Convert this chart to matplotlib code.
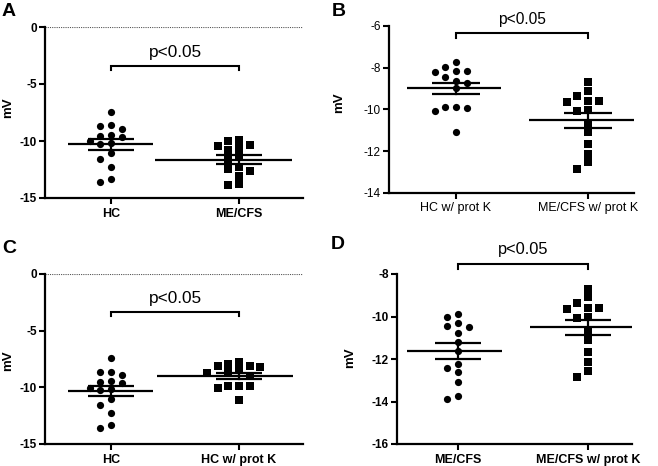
import matplotlib
matplotlib.use("Agg")
import matplotlib.pyplot as plt
import numpy as np

plt.rcParams['font.family'] = ['Liberation Sans', 'DejaVu Sans']

# ---- data (mV) ----
hc = [-7.44, -8.91, -8.68, -8.64, -9.56, -9.62, -9.44, -10.15, -10.03, -10.24,
      -11.05, -11.55, -12.25, -13.62, -13.3]
hc_protk = [-7.74, -8.15, -8.22, -8.16, -8.43, -7.95, -8.63, -8.72, -8.99,
            -9.87, -9.92, -10.06, -9.90, -11.1]
mecfs = [-9.88, -10.01, -10.43, -10.76, -10.51, -10.32, -11.21, -11.62,
         -12.63, -12.44, -12.25, -13.07, -13.9, -13.73]
mecfs_protk = [-8.71, -9.10, -9.38, -9.62, -9.62, -9.66, -10.09, -10.04,
               -10.68, -11.1, -11.65, -12.16, -12.55, -12.86]

W, H = 658, 466

def swarm(vals, thr):
    order = np.argsort(vals)[::-1]
    cols = {}
    off = np.zeros(len(vals))
    for i in order:
        v = vals[i]
        for c in [0, -1, 1, -2, 2, -3, 3, -4, 4]:
            if all(abs(v - u) >= thr for u in cols.get(c, [])):
                cols.setdefault(c, []).append(v)
                off[i] = c
                break
    return off

panels = [
    dict(letter='A', box=(45, 303, 27, 198), cats=(111, 239), ylim=(-15, 0),
         yticks=[0, -5, -10, -15], data=(hc, mecfs), labels=('HC', 'ME/CFS'),
         markers=('o', 's'), bold=True, zero=True, mean_ext=((-0.336, 0.33), (-0.656, 0.414)),
         br=(-3.42, -3.8), ptxt=-2.2, pfs=12.4, ylab_px=14, ylab_y=0.53, letter_xy=(2, 3)),
    dict(letter='B', box=(389, 634, 26, 192.7), cats=(456, 588), ylim=(-14, -6),
         yticks=[-6, -8, -10, -12, -14], data=(hc_protk, mecfs_protk),
         labels=('HC w/ prot K', 'ME/CFS w/ prot K'),
         markers=('o', 's'), bold=False, zero=False, mean_ext=((-0.37, 0.34), (-0.45, 0.35)),
         br=(-6.32, -6.56), ptxt=-5.7, pfs=11.2, ylab_px=345, ylab_y=0.54, letter_xy=(332, 3)),
    dict(letter='C', box=(45, 303, 274, 444), cats=(111, 239), ylim=(-15, 0),
         yticks=[0, -5, -10, -15], data=(hc, hc_protk), labels=('HC', 'HC w/ prot K'),
         markers=('o', 's'), bold=True, zero=True, mean_ext=((-0.336, 0.33), (-0.64, 0.42)),
         br=(-3.35, -3.74), ptxt=-2.12, pfs=12.4, ylab_px=14, ylab_y=0.49, letter_xy=(2, 240)),
    dict(letter='D', box=(397, 632, 274, 444), cats=(458, 588), ylim=(-16, -8),
         yticks=[-8, -10, -12, -14, -16], data=(mecfs, mecfs_protk),
         labels=('ME/CFS', 'ME/CFS w/ prot K'),
         markers=('o', 's'), bold=True, zero=False, mean_ext=((-0.39, 0.34), (-0.45, 0.34)),
         br=(-7.52, -7.75), ptxt=-6.86, pfs=11.8, ylab_px=356, ylab_y=0.505, letter_xy=(331, 236)),
]

fig = plt.figure(figsize=(W / 100, H / 100), dpi=100)

for p in panels:
    l, r, t, b = p['box']
    ax = fig.add_axes([l / W, 1 - b / H, (r - l) / W, (b - t) / H])
    c0, c1 = p['cats']
    sp = c1 - c0
    ax.set_xlim(-(c0 - l) / sp, 1 + (r - c1) / sp)
    ax.set_ylim(*p['ylim'])
    ppu = (b - t) / (p['ylim'][1] - p['ylim'][0])  # pixels per unit
    thr = 7.0 / ppu
    colw = 10.6 / sp
    fw = 'bold' if p['bold'] else 'normal'
    for k, (vals, mk) in enumerate(zip(p['data'], p['markers'])):
        v = np.array(vals)
        off = swarm(v, thr)
        ax.plot(k + off * colw, v, linestyle='none', marker=mk, color='black',
                markersize=5.2 if mk == 'o' else 5.3, markeredgewidth=0, zorder=3)
        m = v.mean()
        sem = v.std(ddof=1) / np.sqrt(len(v))
        e0, e1 = p['mean_ext'][k]
        ax.plot([k + e0, k + e1], [m, m], color='black', lw=1.6, zorder=4,
                solid_capstyle='butt')
        for yy in (m - sem, m + sem):
            ax.plot([k - 0.18, k + 0.18], [yy, yy], color='black', lw=1.6, zorder=4,
                    solid_capstyle='butt')
        ax.plot([k, k], [m - sem, m + sem], color='black', lw=1.6, zorder=4)
    if p['zero']:
        ax.axhline(0, color='#555555', lw=0.8, linestyle=(0, (1, 1)), zorder=1)
    # significance bracket
    y_top, y_bot = p['br']
    ax.plot([0, 0, 1, 1], [y_bot, y_top, y_top, y_bot], color='black', lw=1.5,
            clip_on=False, solid_joinstyle='miter')
    ax.text(0.5, p['ptxt'], 'p<0.05', ha='center', va='center', fontsize=p['pfs'],
            clip_on=False)
    for s in ('top', 'right'):
        ax.spines[s].set_visible(False)
    for s in ('left', 'bottom'):
        ax.spines[s].set_linewidth(1.6)
    ax.set_yticks(p['yticks'])
    ax.set_yticklabels([str(v) for v in p['yticks']], fontweight=fw, fontsize=8.5)
    ax.set_xticks([0, 1])
    ax.set_xticklabels(p['labels'], fontweight=fw, fontsize=9)
    ax.tick_params(axis='y', length=4, width=1.5, pad=2)
    ax.tick_params(axis='x', length=4, width=1.5, pad=3)
    ax.set_ylabel('mV', fontweight='bold', fontsize=9.5)
    ax.yaxis.set_label_coords((p['ylab_px'] - l) / (r - l), p['ylab_y'])
    lx, ly = p['letter_xy']
    fig.text(lx / W, 1 - ly / H, p['letter'], fontsize=14, fontweight='bold',
             ha='left', va='top')

fig.savefig('out.png', dpi=100)
